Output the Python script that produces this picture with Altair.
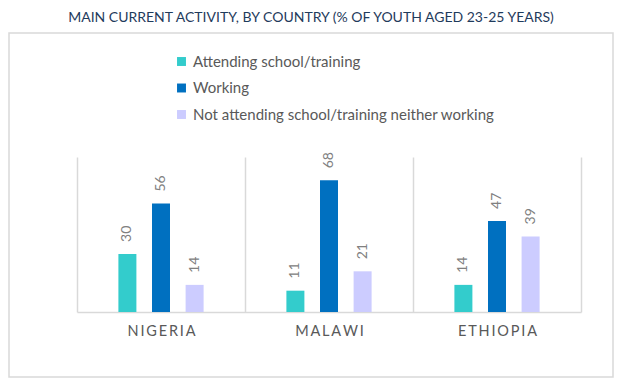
import altair as alt
import pandas as pd

countries = ["NIGERIA", "MALAWI", "ETHIOPIA"]
activities = [
    "Attending school/training",
    "Working",
    "Not attending school/training neither working",
]
attending = [30, 11, 14]
working = [56, 68, 47]
neither = [14, 21, 39]
colors = ["#33CCCC", "#0070C0", "#CCCCFF"]

rows = []
for i, c in enumerate(countries):
    for a, series in zip(activities, [attending, working, neither]):
        rows.append({"country": c, "activity": a, "value": series[i]})
df = pd.DataFrame(rows)

FONT = "Lato"
GRID = "#d9d9d9"

x_enc = alt.X(
    "country:N",
    sort=countries,
    scale=alt.Scale(paddingInner=0, paddingOuter=0),
    axis=alt.Axis(
        title=None,
        labelExpr="join(split(datum.label, ''), '\u2009')",
        grid=True,
        tickBand="extent",
        ticks=False,
        domainColor=GRID,
        domainWidth=1.5,
        gridColor=GRID,
        gridWidth=1.5,
        labelColor="#595959",
        labelFontSize=14.5,
        labelFont=FONT,
        labelPadding=12,
        labelAngle=0,
    ),
)
xo_enc = alt.XOffset(
    "activity:N", sort=activities, scale=alt.Scale(paddingInner=0, paddingOuter=1)
)
y_enc = alt.Y("value:Q", scale=alt.Scale(domain=[0, 80]), axis=None)

base = alt.Chart(df)

border = alt.Chart(alt.Data(values=[{}])).mark_rect(
    fillOpacity=0, stroke=GRID, strokeWidth=1.5
).encode(
    x=alt.value(-68), x2=alt.value(536), y=alt.value(-124), y2=alt.value(220)
)

bars = base.mark_bar(width=18).encode(
    x=x_enc,
    xOffset=xo_enc,
    y=y_enc,
    color=alt.Color(
        "activity:N",
        sort=activities,
        scale=alt.Scale(domain=activities, range=colors),
        legend=alt.Legend(
            title=None,
            orient="none",
            legendX=97,
            legendY=-103,
            symbolType="square",
            symbolSize=80,
            symbolStrokeWidth=0,
            labelFontSize=15,
            labelFont=FONT,
            labelColor="#595959",
            labelLimit=400,
            rowPadding=10.5,
            labelOffset=4,
        ),
    ),
)

labels = base.mark_text(
    angle=270, align="left", baseline="middle", dx=12, color="#808080",
    fontSize=14, font=FONT
).encode(
    x=x_enc,
    xOffset=xo_enc,
    y=y_enc,
    text=alt.Text("value:Q"),
)

chart = alt.layer(border, bars, labels).properties(
    width=504,
    height=155,
    title=alt.TitleParams(
        "MAIN CURRENT ACTIVITY, BY COUNTRY (% OF YOUTH AGED 23-25 YEARS)",
        anchor="middle",
        frame="bounds",
        color="#1F3B5C",
        fontSize=14,
        font=FONT,
        fontWeight="normal",
        offset=7,
    ),
    autosize=alt.AutoSizeParams(type="none"),
    padding={"left": 69, "top": 149, "right": 33, "bottom": 70},
).configure_view(strokeWidth=0)

chart.save("out.html", embed_options={"renderer": "svg", "actions": False})
